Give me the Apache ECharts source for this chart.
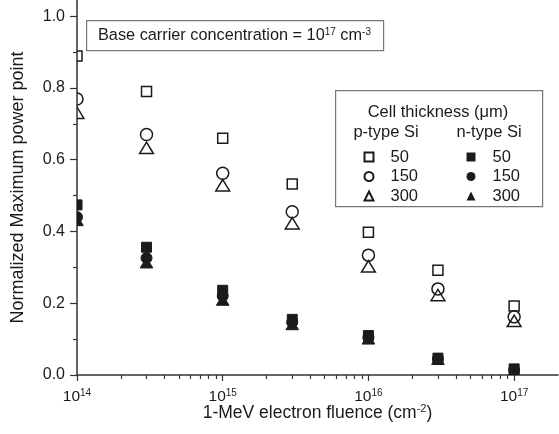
<!DOCTYPE html>
<html>
<head>
<meta charset="utf-8">
<script src="https://cdn.jsdelivr.net/npm/echarts@6/dist/echarts.min.js"></script>
<style>
  html, body { margin: 0; padding: 0; background: #fff; }
  #main { width: 559px; height: 434px; }
</style>
</head>
<body>
<div id="main"></div>
<script>
// 1-MeV electron fluence (cm^-2)
var fluence = [1e14, 3e14, 1e15, 3e15, 1e16, 3e16, 1e17];
// p-type Si, open symbols
var p50  = [0.889, 0.790, 0.660, 0.532, 0.398, 0.292, 0.192];
var p150 = [0.769, 0.670, 0.562, 0.455, 0.334, 0.240, 0.162];
var p300 = [0.730, 0.632, 0.528, 0.422, 0.302, 0.222, 0.150];
// n-type Si, filled symbols
var n50  = [0.474, 0.356, 0.236, 0.155, 0.110, 0.047, 0.017];
var n150 = [0.440, 0.326, 0.220, 0.147, 0.105, 0.045, 0.014];
var n300 = [0.430, 0.312, 0.208, 0.140, 0.100, 0.043, 0.011];

var yTicks = [0, 0.2, 0.4, 0.6, 0.8, 1.0];
var yMinorTicks = [0.1, 0.3, 0.5, 0.7, 0.9];
var xTickExps = [14, 15, 16, 17];

var ink = '#1b1b1b';
var font = '"Liberation Sans", Arial, sans-serif';
var xMin = 1e14, xMax = 2e17;

// minor ticks of the log axis at 2..9 x 10^n
var xMinorExps = [];
xTickExps.slice(0, 3).forEach(function (e) {
  for (var k = 2; k <= 9; k++) xMinorExps.push(e + Math.log10(k));
});

function pairs(ys) {
  return fluence.map(function (x, i) { return [x, ys[i]]; });
}

function marker(shape, filled, size) {
  return function (params, api) {
    var pt = api.coord([api.value(0), api.value(1)]);
    var r = size / 2;
    var style = filled
      ? { fill: ink, stroke: ink, lineWidth: 1 }
      : { fill: 'none', stroke: ink, lineWidth: 1.5 };
    if (shape === 'rect') {
      return { type: 'rect', shape: { x: pt[0] - r, y: pt[1] - r, width: size, height: size }, style: style };
    }
    if (shape === 'circle') {
      return { type: 'circle', shape: { cx: pt[0], cy: pt[1], r: r }, style: style };
    }
    return {
      type: 'polygon',
      shape: { points: [[pt[0], pt[1] - r], [pt[0] + r * 1.15, pt[1] + r * 0.9], [pt[0] - r * 1.15, pt[1] + r * 0.9]] },
      style: style
    };
  };
}

function series(name, ys, shape, filled, size) {
  return {
    name: name,
    type: 'custom',
    clip: true,
    xAxisIndex: 0,
    yAxisIndex: 0,
    itemStyle: { color: ink },
    renderItem: marker(shape, filled, size),
    data: pairs(ys)
  };
}

function legendItem(name, icon, filled) {
  return {
    name: name,
    icon: icon,
    itemStyle: filled
      ? { color: ink, borderWidth: 0 }
      : { color: 'transparent', borderColor: ink, borderWidth: 2 }
  };
}

var sup = { fontSize: 10, fontFamily: font, color: ink, padding: [0, 0, 8, 0] };

var legendBase = {
  orient: 'vertical',
  itemWidth: 9,
  itemHeight: 9,
  itemGap: 1.5,
  selectedMode: false,
  formatter: function (name) { return name.split(' ')[1]; },
  textStyle: { fontFamily: font, fontSize: 16.5, color: ink, lineHeight: 18, padding: [0, 0, 0, 12] }
};

var chart = echarts.init(document.getElementById('main'));
chart.setOption({
  backgroundColor: '#fff',
  animation: false,
  textStyle: { fontFamily: font },
  grid: { left: 77, right: 1, top: 0, bottom: 59, containLabel: false },
  xAxis: [
    {
      type: 'log',
      position: 'bottom',
      min: xMin,
      max: xMax,
      axisLine: { onZero: false, lineStyle: { color: '#333', width: 1.5 } },
      axisTick: { show: false },
      axisLabel: { show: false },
      splitLine: { show: false },
      name: '1-MeV electron fluence (cm{s|-2})',
      nameLocation: 'middle',
      nameGap: 28,
      nameTextStyle: {
        fontFamily: font, fontSize: 17.5, color: ink,
        rich: { s: { fontSize: 11, fontFamily: font, color: ink, padding: [0, 0, 9, 0] } }
      }
    },
    {
      type: 'value',
      position: 'bottom',
      min: Math.log10(xMin),
      max: Math.log10(xMax),
      axisLine: { show: false, onZero: false },
      axisTick: { customValues: xTickExps, length: 6, lineStyle: { color: '#333', width: 1.2 } },
      axisLabel: {
        customValues: xTickExps,
        margin: 13,
        fontFamily: font,
        fontSize: 15.5,
        color: ink,
        formatter: function (v) { return '10{s|' + Math.round(v) + '}'; },
        rich: { s: sup }
      },
      splitLine: { show: false }
    },
    {
      type: 'value',
      position: 'bottom',
      min: Math.log10(xMin),
      max: Math.log10(xMax),
      axisLine: { show: false, onZero: false },
      axisTick: { customValues: xMinorExps, length: 4, lineStyle: { color: '#333', width: 1.2 } },
      axisLabel: { show: false },
      splitLine: { show: false }
    }
  ],
  yAxis: [
    {
      type: 'value',
      position: 'left',
      min: 0,
      max: 1.045,
      axisLine: { show: true, onZero: false, lineStyle: { color: '#333', width: 1.5 } },
      axisTick: { show: true, customValues: yTicks, length: 7, lineStyle: { color: '#333', width: 1.2 } },
      axisLabel: {
        customValues: yTicks,
        margin: 12,
        fontFamily: font,
        fontSize: 16,
        color: ink,
        formatter: function (v) { return v.toFixed(1); }
      },
      splitLine: { show: false },
      name: 'Normalized Maximum power point',
      nameLocation: 'middle',
      nameGap: 50,
      nameTextStyle: { fontFamily: font, fontSize: 18, color: ink }
    },
    {
      type: 'value',
      position: 'left',
      min: 0,
      max: 1.045,
      axisLine: { show: false, onZero: false },
      axisTick: { show: true, customValues: yMinorTicks, length: 4, lineStyle: { color: '#333', width: 1.2 } },
      axisLabel: { show: false },
      splitLine: { show: false }
    }
  ],
  legend: [
    Object.assign({}, legendBase, {
      left: 362.5 - 4,
      top: 143,
      data: [legendItem('p 50', 'rect', false), legendItem('p 150', 'circle', false), legendItem('p 300', 'triangle', false)]
    }),
    Object.assign({}, legendBase, {
      left: 465.5 - 4,
      top: 143,
      data: [legendItem('n 50', 'rect', true), legendItem('n 150', 'circle', true), legendItem('n 300', 'triangle', true)]
    })
  ],
  graphic: [
    {
      type: 'rect',
      left: 86, top: 20, z: 10,
      shape: { width: 297, height: 30 },
      style: { fill: '#fff', stroke: '#777', lineWidth: 1.2 }
    },
    {
      type: 'text',
      x: 98, y: 36, z: 11,
      style: {
        text: 'Base carrier concentration = 10{s|17} cm{s|-3}',
        fontFamily: font, fontSize: 16.3, fill: ink, verticalAlign: 'middle',
        rich: { s: sup }
      }
    },
    {
      type: 'rect',
      left: 335, top: 90, z: 1,
      shape: { width: 207, height: 116 },
      style: { fill: '#fff', stroke: '#777', lineWidth: 1.2 }
    },
    {
      type: 'text',
      x: 438, y: 112, z: 2,
      style: {
        text: 'Cell thickness (\u03bcm)', fontFamily: font, fontSize: 16.5, fill: ink,
        align: 'center', verticalAlign: 'middle'
      }
    },
    {
      type: 'text',
      x: 386, y: 132, z: 2,
      style: {
        text: 'p-type Si', fontFamily: font, fontSize: 16.5, fill: ink,
        align: 'center', verticalAlign: 'middle'
      }
    },
    {
      type: 'text',
      x: 489, y: 132, z: 2,
      style: {
        text: 'n-type Si', fontFamily: font, fontSize: 16.5, fill: ink,
        align: 'center', verticalAlign: 'middle'
      }
    }
  ],
  series: [
    series('p 50', p50, 'rect', false, 10),
    series('p 150', p150, 'circle', false, 12),
    series('p 300', p300, 'triangle', false, 12),
    series('n 50', n50, 'rect', true, 10),
    series('n 150', n150, 'circle', true, 11),
    series('n 300', n300, 'triangle', true, 11)
  ]
});
</script>
</body>
</html>
